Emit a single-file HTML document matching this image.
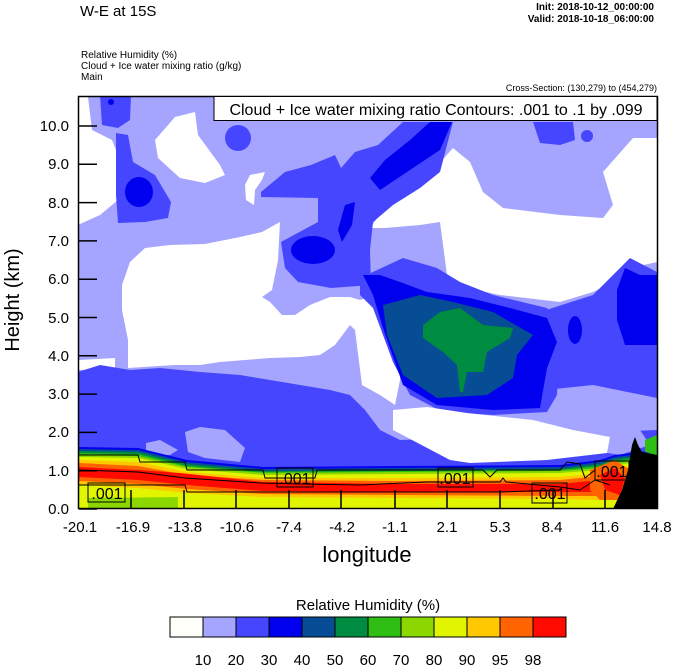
<!DOCTYPE html>
<html><head><meta charset="utf-8"><style>
html,body{margin:0;padding:0;background:#fff;}
svg{display:block;font-family:"Liberation Sans",sans-serif;}
</style></head><body>
<svg width="674" height="667" viewBox="0 0 674 667" xmlns="http://www.w3.org/2000/svg">
<defs><clipPath id="c"><rect x="79" y="96" width="578" height="413"/></clipPath></defs>
<text x="80" y="16" font-size="15">W-E at 15S</text>
<text x="654" y="10" font-size="10" font-weight="bold" text-anchor="end">Init: 2018-10-12_00:00:00</text>
<text x="654" y="22" font-size="10" font-weight="bold" text-anchor="end">Valid: 2018-10-18_06:00:00</text>
<text x="81" y="58" font-size="10">Relative Humidity   (%)</text>
<text x="81" y="69" font-size="10">Cloud + Ice water mixing ratio   (g/kg)</text>
<text x="81" y="80" font-size="10">Main</text>
<text x="657" y="91" font-size="9" text-anchor="end">Cross-Section: (130,279) to (454,279)</text>
<g clip-path="url(#c)">
<rect x="78" y="96" width="580" height="414" fill="#a5a5ff"/>
<!-- whites -->
<polygon fill="#fff" points="78,97 88,97 92,130 112,140 120,160 118,200 100,215 78,225"/>
<polygon fill="#fff" points="175,117 195,112 198,135 220,165 225,175 205,183 180,178 158,158 155,140"/>
<polygon fill="#fff" points="250,175 265,172 262,180 255,190 254,205 246,200 245,185"/>
<polygon fill="#fff" points="122,285 130,262 145,248 170,245 205,244 240,237 262,232 280,222 278,260 272,290 262,297 270,302 282,315 295,315 310,305 330,297 350,297 360,300 375,295 385,302 395,320 400,345 400,380 395,405 380,395 362,385 355,330 350,325 335,345 320,355 300,357 270,358 245,360 220,362 200,365 175,365 128,368 128,340 122,310"/>
<polygon fill="#fff" points="78,360 115,358 115,368 78,370"/>
<polygon fill="#fff" points="370,228 387,205 420,185 453,148 470,162 483,192 503,208 560,215 603,218 613,205 603,172 633,138 657,138 657,262 630,268 613,282 593,292 560,302 500,295 467,288 447,275 440,222 420,225 385,228"/>
<!-- top-left blues -->
<polygon fill="#4646ff" points="100,95 131,95 130,120 118,128 102,125"/>
<circle cx="111" cy="102" r="3" fill="#0000ee"/>
<polygon fill="#4646ff" points="116,133 128,135 133,162 155,175 171,202 168,218 145,222 118,223 116,195"/>
<ellipse cx="139" cy="192" rx="14" ry="15" fill="#0000ee"/>
<ellipse cx="238" cy="138" rx="13" ry="13" fill="#4646ff"/>
<polygon fill="#4646ff" points="261,192 285,172 311,165 335,155 341,168 355,152 378,145 403,122 453,122 440,172 420,188 393,205 373,222 370,250 371,285 331,288 298,282 285,268 281,242 318,222 318,198 261,197"/>
<ellipse cx="313" cy="250" rx="22" ry="14" fill="#0000ee"/>
<polygon fill="#0000ee" points="345,205 355,202 352,225 342,242 338,230"/>
<polygon fill="#0000ee" points="370,178 385,160 410,140 430,122 452,122 440,150 410,170 380,190"/>
<polygon fill="#4646ff" points="533,122 573,122 575,140 560,145 540,143"/>
<circle cx="587" cy="136" r="6" fill="#4646ff"/>
<!-- right blue -->
<polygon fill="#4646ff" points="540,312 593,295 620,268 630,258 657,272 657,398 593,385 545,390"/>
<polygon fill="#0000ee" points="617,290 625,268 640,275 657,275 657,345 625,345 617,320"/>
<ellipse cx="575" cy="330" rx="7" ry="14" fill="#0000ee"/>
<!-- cloud system -->
<polygon fill="#4646ff" points="360,278 403,258 437,268 460,282 493,295 547,308 560,328 557,395 547,412 493,415 443,412 410,395 393,362 373,308 360,295"/>
<polygon fill="#0000ee" points="363,275 380,275 400,282 427,292 470,298 510,308 547,318 557,342 547,368 540,408 493,410 437,405 403,385 383,328 373,295"/>
<polygon fill="#064d96" points="383,305 420,295 453,302 493,312 533,335 517,355 513,378 487,395 437,398 403,375 387,335"/>
<polygon fill="#008c40" points="423,325 440,312 460,308 483,325 513,328 510,338 487,352 483,372 467,372 463,392 460,392 457,365 443,352 423,338"/>
<!-- low blue band -->
<polygon fill="#4646ff" points="78,372 100,365 130,370 160,368 200,372 240,375 270,380 300,385 330,390 350,395 365,410 380,430 400,440 657,430 657,480 78,480"/>
<polygon fill="#a5a5ff" points="146,443 160,440 178,450 170,455 146,455"/>
<polygon fill="#a5a5ff" points="185,432 200,427 225,430 245,448 240,462 205,458 188,452"/>
<polygon fill="#a5a5ff" points="560,420 610,425 640,430 650,445 620,455 590,450"/>
<polygon fill="#fff" points="393,410 427,407 467,413 533,420 573,430 610,437 607,453 547,460 470,463 450,460 393,430"/>
<!-- lower layers -->
<polygon fill="#0000ee" points="78,447 138,448 187,460 263,467 400,466 560,465 600,460 615,455 657,450 657,509 78,509"/>
<polygon fill="#064d96" points="78,449 138,450 187,462 263,469 400,468 560,467 600,462 615,457 657,452 657,509 78,509"/>
<polygon fill="#008c40" points="78,451 138,452 187,464 263,471 400,470 560,469 600,464 615,459 657,454 657,509 78,509"/>
<polygon fill="#2ebe14" points="78,453 138,454 187,466 263,472 400,471 560,470 600,466 615,461 657,456 657,509 78,509"/>
<polygon fill="#8cd700" points="78,455 138,456 187,467 263,473 400,472 560,471 600,468 615,463 657,458 657,509 78,509"/>
<polygon fill="#e1f500" points="78,457 138,458 187,469 263,475 400,474 560,473 600,470 615,465 657,460 657,509 78,509"/>
<polygon fill="#ffc800" points="78,460 138,462 187,472 263,478 400,478 560,477 600,473 615,467 657,465 657,509 78,509"/>
<polygon fill="#ff6400" points="78,463 138,466 187,475 263,480 400,481 560,480 600,476 615,468 657,468 657,509 78,509"/>
<polygon fill="#ff0a00" points="78,467 138,470 180,473 263,482 400,484 560,484 600,480 615,470 657,470 657,509 78,509"/>
<polygon fill="#ff6400" points="78,477 138,480 187,485 263,491 400,492 560,492 600,492 615,490 657,490 657,509 78,509"/>
<polygon fill="#ffc800" points="78,481 138,484 187,489 263,494 400,495 560,496 600,496 657,496 657,509 78,509"/>
<polygon fill="#e1f500" points="78,485 138,488 187,493 263,497 400,498 560,499 600,500 657,500 657,509 78,509"/>
<polygon fill="#8cd700" points="88,498 178,497 178,509 88,509"/>
<polygon fill="#ff6400" points="590,470 615,460 630,470 625,500 600,500 590,490"/>
<polygon fill="#ff0a00" points="600,475 615,468 625,478 620,495 605,490"/>
<polygon fill="#2ebe14" points="645,440 657,435 657,455 645,452"/>
<polygon fill="#000" points="613,509 622,490 628,470 632,445 635,437 638,445 642,452 657,455 657,509"/>
<!-- contour lines -->
<g fill="none" stroke="#000" stroke-width="1">
<polyline points="78,455 138,455 140,462 185,462 187,470 263,470 265,478 315,478 317,470 483,470 490,477 497,470 560,470 567,462 580,464 585,478 595,470"/>
<polyline points="78,470 138,472 185,478 261,483 300,484 360,485 427,482 500,482 503,478 506,482 560,487 580,490 595,480 610,485"/>
<polyline points="78,485 185,485 187,492 400,492 500,492 560,490"/>
</g>
</g>
<rect x="78.5" y="96.5" width="579" height="412" fill="none" stroke="#000" stroke-width="1.5"/>
<!-- labels -->
<g font-size="16" text-anchor="middle">
<rect x="88" y="483" width="37" height="19" fill="none" stroke="#000"/><text x="107" y="499">.001</text>
<rect x="277" y="468" width="36" height="19" fill="none" stroke="#000"/><text x="295" y="484">.001</text>
<rect x="438" y="468" width="35" height="19" fill="none" stroke="#000"/><text x="455" y="484">.001</text>
<rect x="532" y="483" width="35" height="20" fill="none" stroke="#000"/><text x="550" y="499">.001</text>
<rect x="595" y="461" width="34" height="19" fill="none" stroke="#000"/><text x="612" y="477">.001</text>
</g>
<rect x="214" y="96.5" width="443" height="24" fill="#fff" stroke="#000"/>
<text x="436" y="115" font-size="16" text-anchor="middle">Cloud + Ice water mixing ratio Contours: .001 to .1 by .099</text>
<!-- y ticks -->
<g stroke="#000" stroke-width="1.5">
<line x1="79" y1="509" x2="97" y2="509"/><line x1="79" y1="470.7" x2="97" y2="470.7"/><line x1="79" y1="432.4" x2="97" y2="432.4"/><line x1="79" y1="394.1" x2="97" y2="394.1"/><line x1="79" y1="355.8" x2="97" y2="355.8"/><line x1="79" y1="317.5" x2="97" y2="317.5"/><line x1="79" y1="279.2" x2="97" y2="279.2"/><line x1="79" y1="240.9" x2="97" y2="240.9"/><line x1="79" y1="202.6" x2="97" y2="202.6"/><line x1="79" y1="164.3" x2="97" y2="164.3"/><line x1="79" y1="126" x2="97" y2="126"/>
<line x1="131" y1="509" x2="131" y2="490"/><line x1="184" y1="509" x2="184" y2="490"/><line x1="236" y1="509" x2="236" y2="490"/><line x1="289" y1="509" x2="289" y2="490"/><line x1="341" y1="509" x2="341" y2="490"/><line x1="395" y1="509" x2="395" y2="490"/><line x1="447" y1="509" x2="447" y2="490"/><line x1="500" y1="509" x2="500" y2="490"/><line x1="553" y1="509" x2="553" y2="490"/><line x1="605" y1="509" x2="605" y2="490"/>
</g>
<g font-size="15" text-anchor="end">
<text x="69" y="514">0.0</text><text x="69" y="476">1.0</text><text x="69" y="437">2.0</text><text x="69" y="399">3.0</text><text x="69" y="361">4.0</text><text x="69" y="323">5.0</text><text x="69" y="284">6.0</text><text x="69" y="246">7.0</text><text x="69" y="208">8.0</text><text x="69" y="169">9.0</text><text x="69" y="131">10.0</text>
</g>
<g font-size="15" text-anchor="middle">
<text x="80" y="532">-20.1</text><text x="133" y="532">-16.9</text><text x="185" y="532">-13.8</text><text x="237" y="532">-10.6</text><text x="289" y="532">-7.4</text><text x="342" y="532">-4.2</text><text x="395" y="532">-1.1</text><text x="447" y="532">2.1</text><text x="500" y="532">5.3</text><text x="552" y="532">8.4</text><text x="605" y="532">11.6</text><text x="657" y="532">14.8</text>
</g>
<text x="367" y="562" font-size="22" text-anchor="middle">longitude</text>
<text transform="translate(19,300) rotate(-90)" font-size="20" text-anchor="middle">Height (km)</text>
<!-- colorbar -->
<text x="368" y="610" font-size="15" text-anchor="middle">Relative Humidity  (%)</text>
<g stroke="#000" stroke-width="1">
<rect x="170" y="617" width="33" height="20" fill="#fffffa"/>
<rect x="203" y="617" width="33" height="20" fill="#a5a5ff"/>
<rect x="236" y="617" width="33" height="20" fill="#4646ff"/>
<rect x="269" y="617" width="33" height="20" fill="#0000ee"/>
<rect x="302" y="617" width="33" height="20" fill="#064d96"/>
<rect x="335" y="617" width="33" height="20" fill="#008c40"/>
<rect x="368" y="617" width="33" height="20" fill="#2ebe14"/>
<rect x="401" y="617" width="33" height="20" fill="#8cd700"/>
<rect x="434" y="617" width="33" height="20" fill="#e1f500"/>
<rect x="467" y="617" width="33" height="20" fill="#ffc800"/>
<rect x="500" y="617" width="33" height="20" fill="#ff6400"/>
<rect x="533" y="617" width="33" height="20" fill="#ff0a00"/>
</g>
<g font-size="15" text-anchor="middle">
<text x="203" y="665">10</text><text x="236" y="665">20</text><text x="269" y="665">30</text><text x="302" y="665">40</text><text x="335" y="665">50</text><text x="368" y="665">60</text><text x="401" y="665">70</text><text x="434" y="665">80</text><text x="467" y="665">90</text><text x="500" y="665">95</text><text x="533" y="665">98</text>
</g>
</svg>
</body></html>
